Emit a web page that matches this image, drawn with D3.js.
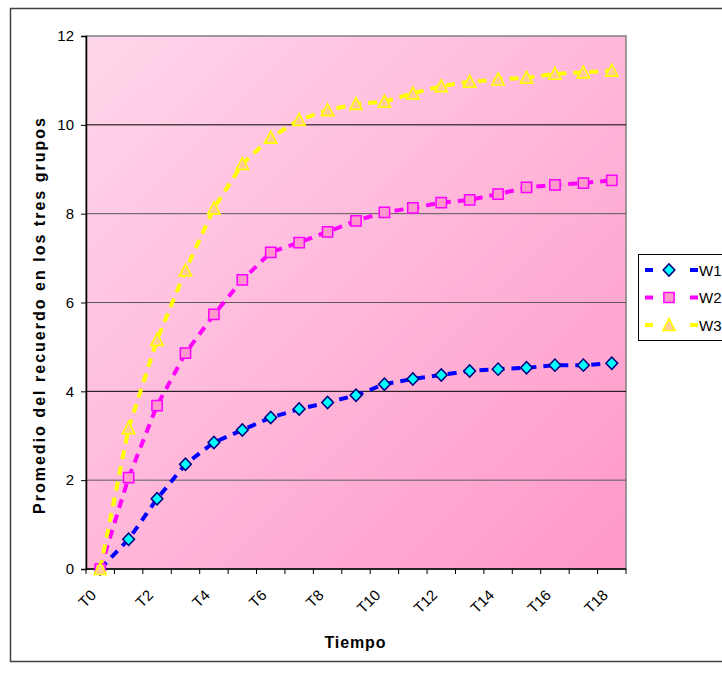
<!DOCTYPE html>
<html>
<head>
<meta charset="utf-8">
<script src="https://cdn.jsdelivr.net/npm/d3@7"></script>
<style>
  body { margin: 0; background: #fff; }
  text { font-family: 'Liberation Sans', Arial, sans-serif; }
</style>
</head>
<body>
<div class="main"><svg></svg></div>
<script>
const categories = ['T0','T1','T2','T3','T4','T5','T6','T7','T8','T9','T10','T11','T12','T13','T14','T15','T16','T17','T18'];
const w1 = [0, 0.67, 1.58, 2.36, 2.85, 3.13, 3.41, 3.60, 3.75, 3.91, 4.16, 4.28, 4.37, 4.46, 4.50, 4.53, 4.59, 4.59, 4.63];
const w2 = [0, 2.06, 3.68, 4.86, 5.73, 6.51, 7.13, 7.35, 7.59, 7.84, 8.03, 8.13, 8.25, 8.31, 8.44, 8.59, 8.65, 8.69, 8.75];
const w3 = [0, 3.17, 5.16, 6.72, 8.12, 9.12, 9.71, 10.11, 10.33, 10.47, 10.52, 10.71, 10.87, 10.97, 11.02, 11.06, 11.15, 11.18, 11.22];
const seriesNames = ['W1', 'W2', 'W3'];
const yTicks = [0, 2, 4, 6, 8, 10, 12];

const svgWidth = 722, svgHeight = 675;
const plot = { left: 86, top: 36, right: 626, bottom: 569 };

const svg = d3.select('.main').select('svg')
  .attr('width', svgWidth)
  .attr('height', svgHeight);

// outer chart border
svg.append('rect')
  .attr('x', 10.5).attr('y', 8.5)
  .attr('width', 720).attr('height', 653)
  .attr('fill', '#fff')
  .attr('stroke', '#404040').attr('stroke-width', 1.5);

const defs = svg.append('defs');
const grad = defs.append('linearGradient')
  .attr('id', 'bg')
  .attr('x1', 0).attr('y1', 0).attr('x2', 1).attr('y2', 1);
grad.append('stop').attr('offset', '0%').attr('stop-color', '#ffd6ea');
grad.append('stop').attr('offset', '100%').attr('stop-color', '#ff98c9');

const x = d3.scaleBand()
  .domain(categories)
  .range([plot.left, plot.right]);

const y = d3.scaleLinear()
  .domain([0, 12])
  .range([plot.bottom, plot.top]);

const cx = d => x(d) + x.bandwidth() / 2;

svg.append('rect')
  .attr('x', plot.left).attr('y', plot.top)
  .attr('width', plot.right - plot.left)
  .attr('height', plot.bottom - plot.top)
  .attr('fill', 'url(#bg)')
  .attr('stroke', '#808080').attr('stroke-width', 1.5);

// gridlines
svg.append('g')
  .selectAll('line')
  .data(yTicks.filter(d => d > 0 && d < 12))
  .enter()
  .append('line')
  .attr('x1', plot.left).attr('x2', plot.right)
  .attr('y1', d => y(d)).attr('y2', d => y(d))
  .attr('stroke', d => (d === 4 || d === 10) ? '#000' : '#5a5a5a')
  .attr('stroke-width', 1);

// y axis
const yAxis = svg.append('g')
  .attr('transform', `translate(${plot.left},0)`)
  .call(d3.axisLeft(y).tickValues(yTicks).tickSize(5).tickPadding(7));
yAxis.select('.domain').attr('stroke', '#000').attr('stroke-width', 1.5);
yAxis.selectAll('.tick line').attr('stroke', '#000');
yAxis.selectAll('text').style('font-size', '15px').attr('fill', '#000');

// x axis: ticks between categories
const xAxisG = svg.append('g');
xAxisG.append('line')
  .attr('x1', plot.left).attr('x2', plot.right)
  .attr('y1', plot.bottom).attr('y2', plot.bottom)
  .attr('stroke', '#000').attr('stroke-width', 1.5);
xAxisG.selectAll('.tk')
  .data(categories.concat(['end']))
  .enter()
  .append('line')
  .attr('class', 'tk')
  .attr('x1', (d, i) => plot.left + i * x.step())
  .attr('x2', (d, i) => plot.left + i * x.step())
  .attr('y1', plot.bottom).attr('y2', plot.bottom + 5)
  .attr('stroke', '#000');
xAxisG.selectAll('text')
  .data(categories.filter((d, i) => i % 2 === 0))
  .enter()
  .append('text')
  .attr('transform', d => `translate(${cx(d) - 3},${plot.bottom + 27}) rotate(-45)`)
  .attr('text-anchor', 'end')
  .style('font-size', '15px')
  .text(d => d);

// axis titles
svg.append('text')
  .attr('x', 355).attr('y', 648)
  .attr('text-anchor', 'middle')
  .attr('textLength', 61).attr('lengthAdjust', 'spacing')
  .style('font-size', '16px').style('font-weight', 'bold')
  .text('Tiempo');

svg.append('text')
  .attr('transform', `translate(45,316) rotate(-90)`)
  .attr('text-anchor', 'middle')
  .attr('textLength', 396).attr('lengthAdjust', 'spacing')
  .style('font-size', '16px').style('font-weight', 'bold')
  .text('Promedio del recuerdo en los tres grupos');

const styles = [
  { line: '#0000ff', fill: '#00ffff', stroke: '#000080', shape: d3.symbolSquare, size: 68, rot: 45, sy: 1.05 },
  { line: '#ff00ff', fill: '#ff99cc', stroke: '#ff00ff', shape: d3.symbolSquare, size: 105, rot: 0, sy: 1 },
  { line: '#ffff00', fill: '#ffcc99', stroke: '#ffff00', shape: d3.symbolTriangle, size: 66, rot: 0, sy: 1.12 }
];
const allSeries = [w1, w2, w3];

const line = d3.line()
  .x((d, i) => cx(categories[i]))
  .y(d => y(d));

allSeries.forEach((vals, s) => {
  svg.append('path')
    .datum(vals)
    .attr('d', line)
    .attr('fill', 'none')
    .attr('stroke', styles[s].line)
    .attr('stroke-width', 4)
    .attr('stroke-dasharray', '9,7');
});

function markerTransform(st, px, py) {
  // triangle: shift so the box is centred on the point
  const dy = st.shape === d3.symbolTriangle ? 1.5 : 0;
  return `translate(${px},${py + dy}) scale(1,${st.sy}) rotate(${st.rot})`;
}

allSeries.forEach((vals, s) => {
  const st = styles[s];
  const sym = d3.symbol().type(st.shape).size(st.size);
  svg.append('g')
    .selectAll('path')
    .data(vals)
    .enter()
    .append('path')
    .attr('d', sym)
    .attr('transform', (d, i) => markerTransform(st, cx(categories[i]), y(d)))
    .attr('fill', st.fill)
    .attr('stroke', st.stroke)
    .attr('stroke-width', 1.5);
});

// legend
const legend = svg.append('g');
legend.append('rect')
  .attr('x', 638.5).attr('y', 254.5)
  .attr('width', 100).attr('height', 86)
  .attr('fill', '#fff')
  .attr('stroke', '#000');
seriesNames.forEach((name, s) => {
  const st = styles[s];
  const ly = 270 + s * 27.5;
  legend.append('line')
    .attr('x1', 645).attr('x2', 698)
    .attr('y1', ly).attr('y2', ly)
    .attr('stroke', st.line)
    .attr('stroke-width', 4)
    .attr('stroke-dasharray', '8,37');
  legend.append('path')
    .attr('d', d3.symbol().type(st.shape).size(st.size)())
    .attr('transform', markerTransform(st, 669, ly))
    .attr('fill', st.fill)
    .attr('stroke', st.stroke)
    .attr('stroke-width', 1.5);
  legend.append('text')
    .attr('x', 699).attr('y', ly + 5.5)
    .style('font-size', '15px')
    .text(name);
});
</script>
</body>
</html>
